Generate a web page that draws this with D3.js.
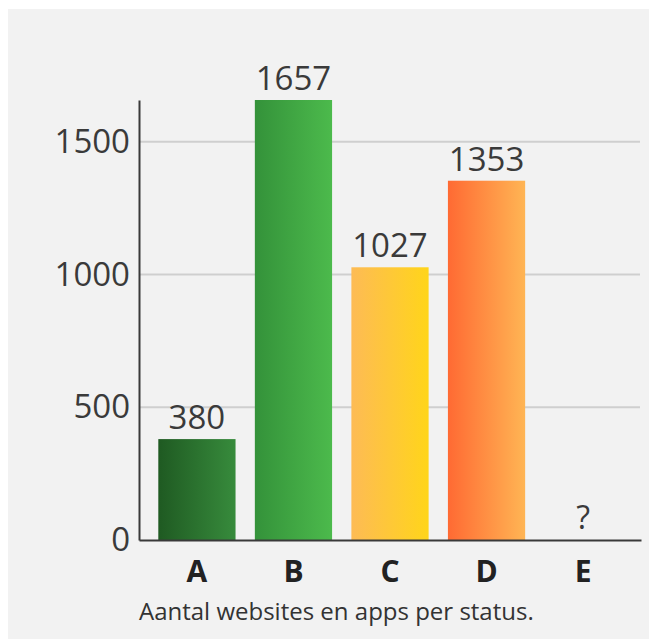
<!DOCTYPE html>
<html>
<head>
<meta charset="utf-8">
<script src="https://cdn.jsdelivr.net/npm/d3@7"></script>
<style>
  body { margin: 0; background: #ffffff; }
  text { font-family: "Open Sans", "Noto Sans", sans-serif; }
</style>
</head>
<body>
<div id="chart"></div>
<script>
// Data
const categories = ["A", "B", "C", "D", "E"];
const counts = [380, 1657, 1027, 1353, null];
const yTicks = [0, 500, 1000, 1500];
const caption = "Aantal websites en apps per status.";
// left colour, right colour for each bar
const gradStops = [
    ["#1f5a22", "#378b3c"],
    ["#34923a", "#4cba4c"],
    ["#fdbb55", "#ffd51a"],
    ["#ff6a33", "#ffb554"],
    ["#cccccc", "#cccccc"]
];

const width = 649, height = 639;
const svg = d3.select("#chart").append("svg")
    .attr("width", width)
    .attr("height", height);

// panel background
svg.append("rect")
    .attr("x", 8).attr("y", 9)
    .attr("width", width - 8).attr("height", height - 9)
    .attr("fill", "#f2f2f2");

const x = d3.scaleBand()
    .domain(categories)
    .range([139, 641])
    .paddingInner(0.2)
    .paddingOuter(0.2);

const y = d3.scaleLinear()
    .domain([0, 1657])
    .range([540, 100]);

// gradients
const defs = svg.append("defs");
gradStops.forEach(function (c, i) {
    const g = defs.append("linearGradient")
        .attr("id", "grad" + i)
        .attr("x1", "0%").attr("x2", "100%")
        .attr("y1", "0%").attr("y2", "0%");
    g.append("stop").attr("offset", "0%").attr("stop-color", c[0]);
    g.append("stop").attr("offset", "100%").attr("stop-color", c[1]);
});

// gridlines
svg.append("g")
    .selectAll("line")
    .data(yTicks.filter(d => d > 0))
    .enter().append("line")
    .attr("x1", 139).attr("x2", 640)
    .attr("y1", d => y(d)).attr("y2", d => y(d))
    .attr("stroke", "#cfcfcf")
    .attr("stroke-width", 2);

// bars
const data = categories.map((c, i) => ({ key: c, value: counts[i], idx: i }));

svg.append("g")
    .selectAll("rect")
    .data(data.filter(d => d.value != null))
    .enter().append("rect")
    .attr("x", d => x(d.key))
    .attr("y", d => y(d.value))
    .attr("width", x.bandwidth())
    .attr("height", d => y(0) - y(d.value))
    .attr("fill", d => "url(#grad" + d.idx + ")");

// value labels
svg.append("g")
    .selectAll("text")
    .data(data)
    .enter().append("text")
    .attr("x", d => x(d.key) + x.bandwidth() / 2)
    .attr("y", d => d.value == null ? y(0) - 11 : y(d.value) - 10)
    .attr("text-anchor", "middle")
    .attr("fill", "#3a3a3a")
    .style("font-size", d => d.value == null ? "32px" : "33px")
    .text(d => d.value == null ? "?" : d.value);

// y axis
const yAxis = d3.axisLeft(y)
    .tickValues(yTicks)
    .tickFormat(d3.format("d"))
    .tickSize(0)
    .tickPadding(9);

const ya = svg.append("g")
    .attr("transform", "translate(139,0)")
    .call(yAxis);
ya.select(".domain").attr("stroke", "#3a3a3a").attr("stroke-width", 2);
ya.selectAll("text")
    .attr("fill", "#3a3a3a")
    .style("font-size", "33px")
    .style("font-family", "'Open Sans', sans-serif");

// x axis
const xAxis = d3.axisBottom(x).tickSize(0).tickPadding(21);
const xa = svg.append("g")
    .attr("transform", "translate(0,540)")
    .call(xAxis);
xa.select(".domain").attr("stroke", "#3a3a3a").attr("stroke-width", 2);
xa.selectAll("text")
    .attr("fill", "#222")
    .style("font-size", "30px")
    .style("font-weight", "bold")
    .style("font-family", "'Open Sans', sans-serif");

// caption
svg.append("text")
    .attr("x", 139)
    .attr("y", 620)
    .attr("fill", "#333")
    .style("font-size", "24px")
    .text(caption);
</script>
</body>
</html>
